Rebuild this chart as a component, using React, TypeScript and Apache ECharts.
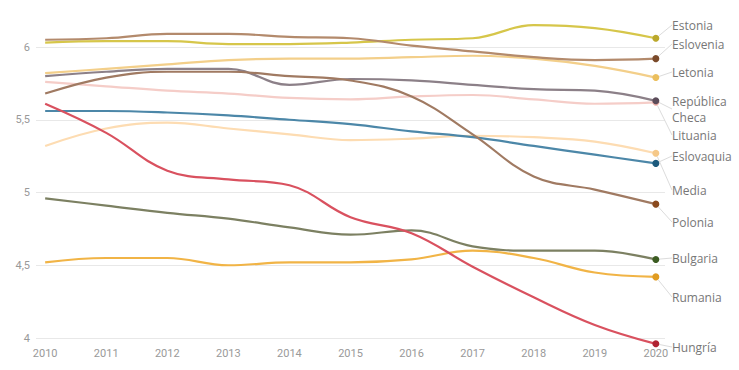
import React, { useEffect, useRef } from "react";
import * as echarts from "echarts";

const years = [2010, 2011, 2012, 2013, 2014, 2015, 2016, 2017, 2018, 2019, 2020];
const yTicks = [4, 4.5, 5, 5.5, 6];

const estonia = [6.03, 6.04, 6.04, 6.02, 6.02, 6.03, 6.05, 6.06, 6.15, 6.13, 6.06];
const eslovenia = [6.05, 6.06, 6.09, 6.09, 6.07, 6.06, 6.01, 5.97, 5.93, 5.91, 5.92];
const letonia = [5.82, 5.85, 5.88, 5.91, 5.92, 5.92, 5.93, 5.94, 5.92, 5.87, 5.79];
const lituania = [5.76, 5.73, 5.7, 5.68, 5.65, 5.64, 5.66, 5.67, 5.64, 5.61, 5.62];
const republicaCheca = [5.8, 5.83, 5.85, 5.85, 5.74, 5.78, 5.77, 5.74, 5.71, 5.7, 5.63];
const media = [5.32, 5.44, 5.48, 5.44, 5.4, 5.36, 5.37, 5.39, 5.38, 5.35, 5.27];
const eslovaquia = [5.56, 5.56, 5.55, 5.53, 5.5, 5.47, 5.42, 5.38, 5.32, 5.26, 5.2];
const polonia = [5.68, 5.79, 5.83, 5.83, 5.8, 5.77, 5.66, 5.4, 5.11, 5.02, 4.92];
const bulgaria = [4.96, 4.91, 4.86, 4.82, 4.76, 4.71, 4.74, 4.63, 4.6, 4.6, 4.54];
const rumania = [4.52, 4.55, 4.55, 4.5, 4.52, 4.52, 4.54, 4.6, 4.55, 4.45, 4.42];
const hungria = [5.61, 5.41, 5.15, 5.09, 5.05, 4.83, 4.72, 4.49, 4.28, 4.09, 3.96];

const seriesDefs = [
  { name: "Lituania", data: lituania, line: "#f5cdc8", dot: "#f0b0a8", labelY: 135 },
  { name: "Media", data: media, line: "#fddcb2", dot: "#f5c888", labelY: 190 },
  { name: "Letonia", data: letonia, line: "#f3cf8a", dot: "#ebbf5e", labelY: 72 },
  { name: "Estonia", data: estonia, line: "#d6c64a", dot: "#bba82c", labelY: 25 },
  { name: "Eslovenia", data: eslovenia, line: "#b38a6c", dot: "#7a4a2a", labelY: 44 },
  { name: "República\nCheca", data: republicaCheca, line: "#8c8088", dot: "#5c4c5a", labelY: 109 },
  { name: "Eslovaquia", data: eslovaquia, line: "#4c87a8", dot: "#1c5a7c", labelY: 156 },
  { name: "Polonia", data: polonia, line: "#a07a62", dot: "#8a4a1e", labelY: 222 },
  { name: "Rumania", data: rumania, line: "#f1b446", dot: "#e09c22", labelY: 297 },
  { name: "Bulgaria", data: bulgaria, line: "#7c8062", dot: "#3c5c22", labelY: 258 },
  { name: "Hungría", data: hungria, line: "#d9515f", dot: "#b02232", labelY: 347 },
];

export default function App() {
  const ref = useRef<HTMLDivElement>(null);
  useEffect(() => {
    if (!ref.current) return;
    const chart = echarts.init(ref.current, undefined, { renderer: "svg" });
    const last = years.length - 1;
    const series = seriesDefs.map((s) => ({
      type: "line",
      name: s.name,
      smooth: 0.4,
      clip: false,
      symbol: "circle",
      symbolSize: 0,
      lineStyle: { color: s.line, width: 2.2 },
      itemStyle: { color: s.dot },
      emphasis: { disabled: true },
      labelLine: { show: true, lineStyle: { color: "#dcdcdc", width: 1 } },
      labelLayout: () => ({ x: 672, y: s.labelY, align: "left", verticalAlign: "middle" }),
      data: s.data.map((v, i) =>
        i === last
          ? {
              value: [years[i], v],
              symbolSize: 7,
              label: {
                show: true,
                position: "right",
                distance: 10,
                formatter: s.name,
                color: "#777",
                fontSize: 12,
                lineHeight: 16,
                fontFamily: "'Open Sans', sans-serif",
              },
            }
          : { value: [years[i], v] }
      ),
    }));
    chart.setOption({
      animation: false,
      grid: { left: 36, right: 74, top: 47, bottom: 32 },
      xAxis: {
        type: "value",
        min: 2009.85,
        max: 2020.15,
        axisLine: { show: false },
        axisTick: { show: false },
        splitLine: { show: false },
        axisLabel: {
          customValues: years,
          color: "#999",
          fontSize: 11,
          fontFamily: "Roboto, sans-serif",
          margin: 10,
          formatter: (v: number) => String(v),
        },
      },
      yAxis: {
        type: "value",
        min: 4,
        max: 6,
        interval: 0.5,
        axisLine: { show: false },
        axisTick: { show: false },
        splitLine: { lineStyle: { color: "#e8e8e8", width: 1 } },
        axisLabel: {
          customValues: yTicks,
          color: "#999",
          fontSize: 11,
          fontFamily: "Roboto, sans-serif",
          margin: 6,
          formatter: (v: number) => String(v).replace(".", ","),
        },
      },
      series,
    });
    return () => chart.dispose();
  }, []);
  return (
    <div
      ref={ref}
      style={{ position: "fixed", left: 0, top: 0, width: 739, height: 370, background: "#fff" }}
    />
  );
}
